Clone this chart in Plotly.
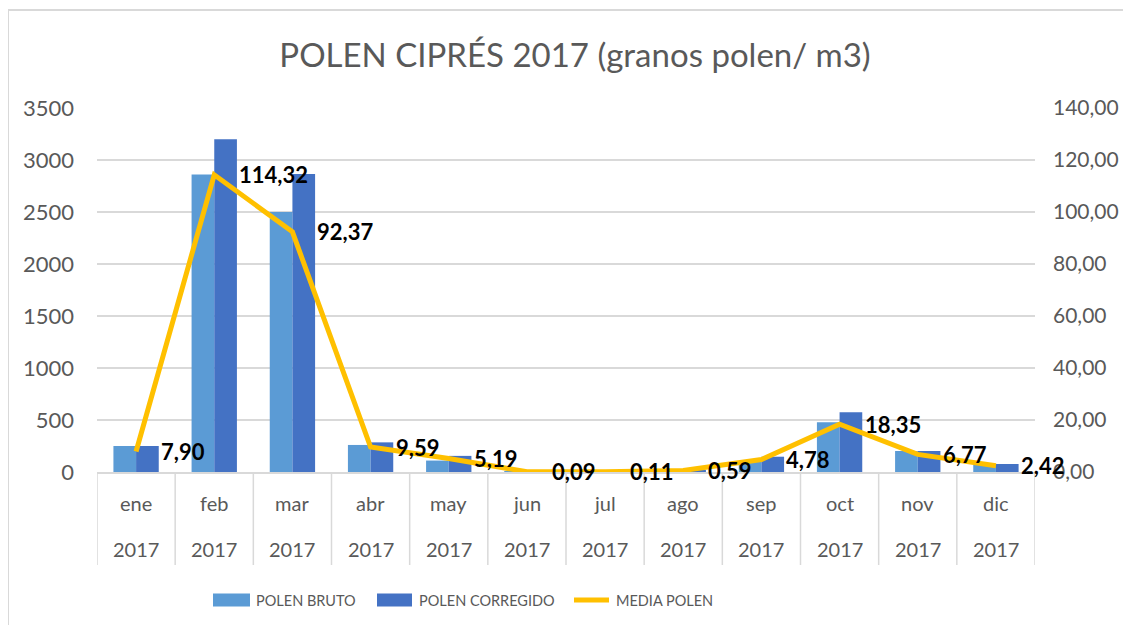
import plotly.graph_objects as go

months = ["ene", "feb", "mar", "abr", "may", "jun", "jul", "ago", "sep", "oct", "nov", "dic"]
years = ["2017"] * 12
polen_bruto = [250, 2860, 2500, 260, 110, 3, 4, 15, 100, 478, 202, 77]
polen_corregido = [250, 3200, 2865, 285, 155, 3, 4, 18, 147, 574, 202, 77]
media_polen = [7.90, 114.32, 92.37, 9.59, 5.19, 0.09, 0.11, 0.59, 4.78, 18.35, 6.77, 2.42]
left_ticks = [0, 500, 1000, 1500, 2000, 2500, 3000, 3500]
right_ticks = [0, 20, 40, 60, 80, 100, 120, 140]
series_names = ["POLEN BRUTO", "POLEN CORREGIDO", "MEDIA POLEN"]
series_colors = ["#5B9BD5", "#4472C4", "#FFC000"]

FONT = "Lato, 'Open Sans', sans-serif"
GREY = "#595959"
LINEC = "#D9D9D9"

# page has an 8px body margin; figure sized to fit inside the window
OFF = 8
W, H = 1131 - 2 * OFF, 633 - 2 * OFF
PL, PR, PT, PB = 97, 1035, 108, 472  # plot area in page pixels
L, T = PL - OFF, PT - OFF
R, B = W - (PR - OFF), H - (PB - OFF)
PW, PH = PR - PL, PB - PT


def px_x(p):
    return (p - PL) / PW


def px_y(p):
    return (PB - p) / PH


x = list(range(len(months)))

fig = go.Figure()
fig.add_trace(go.Bar(x=x, y=polen_bruto, name=series_names[0],
                     marker=dict(color=series_colors[0], line=dict(width=0))))
fig.add_trace(go.Bar(x=x, y=polen_corregido, name=series_names[1],
                     marker=dict(color=series_colors[1], line=dict(width=0))))
fig.add_trace(go.Scatter(x=x, y=media_polen, name=series_names[2], yaxis="y2",
                         mode="lines", line=dict(color=series_colors[2], width=5)))

annotations = []
for i, v in enumerate(media_polen):
    annotations.append(dict(x=i, y=v, xref="x", yref="y2", text=f"{v:.2f}".replace(".", ","),
                            showarrow=False, xanchor="left", yanchor="middle", xshift=23,
                            font=dict(family=FONT, size=22, color="black", weight="bold")))
for i, (m, yv) in enumerate(zip(months, years)):
    annotations.append(dict(x=i, y=px_y(503), xref="x", yref="paper", text=m, showarrow=False,
                            xanchor="center", yanchor="middle", font=dict(family=FONT, size=20, color=GREY)))
    annotations.append(dict(x=i, y=px_y(549), xref="x", yref="paper", text=yv, showarrow=False,
                            xanchor="center", yanchor="middle", font=dict(family=FONT, size=20, color=GREY)))

shapes = []
for k in range(len(months) + 1):
    shapes.append(dict(type="line", xref="x", yref="paper", x0=k - 0.5, x1=k - 0.5,
                       y0=0, y1=px_y(565), line=dict(color=LINEC, width=1.5)))
shapes.append(dict(type="rect", xref="paper", yref="paper", x0=px_x(8), x1=px_x(1160),
                   y0=px_y(660), y1=px_y(10), line=dict(color=LINEC, width=2), layer="below"))

# custom legend (wide swatches like the original)
leg_y = 600
swatches = [(213, 250, 254), (377, 412, 417), (572, 611, 614)]
for idx, (s0, s1, tx) in enumerate(swatches):
    if idx < 2:
        shapes.append(dict(type="rect", xref="paper", yref="paper", x0=px_x(s0), x1=px_x(s1),
                           y0=px_y(leg_y + 6.5), y1=px_y(leg_y - 6.5),
                           fillcolor=series_colors[idx], line=dict(width=0)))
    else:
        shapes.append(dict(type="line", xref="paper", yref="paper", x0=px_x(s0 + 2), x1=px_x(s1 - 2),
                           y0=px_y(leg_y), y1=px_y(leg_y),
                           line=dict(color=series_colors[idx], width=5)))
    annotations.append(dict(x=px_x(tx), y=px_y(leg_y), xref="paper", yref="paper",
                            text=series_names[idx], showarrow=False, xanchor="left", yanchor="middle",
                            font=dict(family=FONT, size=14.5, color=GREY)))

fig.update_layout(
    width=W, height=H,
    margin=dict(l=L, r=R, t=T, b=B, pad=0, autoexpand=False),
    paper_bgcolor="white", plot_bgcolor="white",
    separators=",.",
    barmode="group", bargap=0.42, bargroupgap=0,
    showlegend=False,
    title=dict(text="POLEN CIPRÉS 2017 (granos polen/ m3)", x=(575 - OFF) / W, xanchor="center",
               y=1 - (55 - OFF) / H, yanchor="middle", font=dict(family=FONT, size=33, color=GREY)),
    font=dict(family=FONT, color=GREY),
    xaxis=dict(range=[-0.5, 11.5], showticklabels=False, showgrid=False, zeroline=False,
               showline=True, linecolor=LINEC, linewidth=1.5, ticks="", automargin=False),
    yaxis=dict(range=[0, 3500], tickvals=left_ticks, tickformat="d", showgrid=True,
               gridcolor=LINEC, gridwidth=1.5, zeroline=False, showline=False, automargin=False,
               tickfont=dict(family=FONT, size=22, color=GREY), ticklabelstandoff=22),
    yaxis2=dict(range=[0, 140], tickvals=right_ticks, tickformat=".2f", overlaying="y",
                side="right", showgrid=False, zeroline=False, showline=False, automargin=False,
                tickfont=dict(family=FONT, size=21, color=GREY), ticklabelstandoff=17),
    annotations=annotations,
    shapes=shapes,
)

fig.write_html("out.html")
